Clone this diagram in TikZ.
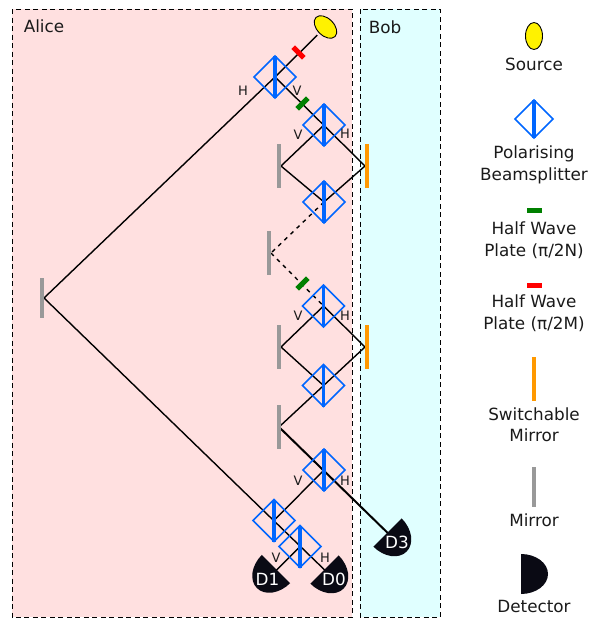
\documentclass[tikz,border=0pt]{standalone}
\usepackage{fontspec}
\setmainfont{DejaVu Sans}
\usepackage{tikz}
\usetikzlibrary{shapes.geometric,backgrounds}

\definecolor{alicepink}{HTML}{FFE0E0}
\definecolor{bobcyan}{HTML}{E0FFFF}
\definecolor{bsblue}{HTML}{0066FF}
\definecolor{txtgrey}{HTML}{1A1A1A}
\definecolor{detblack}{HTML}{0A0A14}
\definecolor{mirrorgrey}{HTML}{999999}
\definecolor{switchorange}{HTML}{FF9900}
\definecolor{platered}{HTML}{FF0000}
\definecolor{plategreen}{HTML}{008000}

\tikzset{
	panel/.style={draw=black,line width=0.9bp,dash pattern=on 5bp off 3.5bp},
	beam/.style={draw=black,line width=1.4bp},
	thickbeam/.style={draw=black,line width=2bp},
	dashbeam/.style={draw=black,line width=1.4bp,dash pattern=on 4bp off 4.5bp},
	splitter/.style={diamond,aspect=1,draw=bsblue,line width=1.5bp,inner sep=0pt,outer sep=0pt,minimum size=42bp},
	splitterkey/.style={splitter,minimum size=38bp},
	splitbar/.style={draw=bsblue,line width=3.4bp},
	source/.style={ellipse,draw=black,fill=yellow,line width=0.9bp,inner sep=0pt,outer sep=0pt,minimum width=17bp,minimum height=27bp},
	mirrorbar/.style={rectangle,fill=mirrorgrey,inner sep=0pt,outer sep=0pt,minimum width=4bp,minimum height=44bp},
	switchbar/.style={mirrorbar,fill=switchorange},
	halfwave/.style={rectangle,inner sep=0pt,outer sep=0pt,minimum width=15bp,minimum height=5bp},
	txt/.style={text=txtgrey,inner sep=0pt,align=center,font=\fontsize{16.8bp}{21.5bp}\selectfont},
	pol/.style={text=txtgrey,inner sep=0pt,font=\fontsize{13bp}{14bp}\selectfont},
	dettxt/.style={text=white,inner sep=0pt,font=\fontsize{16.8bp}{20bp}\selectfont}
}

\newcommand{\detector}[3]{
	\fill [detblack,shift={(#1bp,-#2bp)},rotate=#3] (0bp,20bp) arc[start angle=90,end angle=-90,x radius=27bp,y radius=20bp] -- cycle;
}

\begin{document}
\begin{tikzpicture}
	\useasboundingbox (0bp,0bp) rectangle (597bp,-618bp);

	\node (src) at (325.5bp,-27bp) [source,rotate=45]    {};

	\node (bs1) at (275bp,-77bp)   [splitter]            {};
	\node (bs2) at (324bp,-125bp)  [splitter]            {};
	\node (bs3) at (324bp,-202bp)  [splitter]            {};
	\node (bs4) at (323.5bp,-306bp) [splitter]           {};
	\node (bs5) at (323.5bp,-385.5bp) [splitter]         {};
	\node (bs6) at (324bp,-470bp)  [splitter]            {};
	\node (bs7) at (274bp,-520.5bp) [splitter]           {};
	\node (bs8) at (300bp,-546.5bp) [splitter]           {};
	\node (bsk) at (534bp,-119bp)  [splitterkey]         {};

	\foreach \bs in {bs1,bs2,bs3,bs4,bs5,bs6,bs7,bs8,bsk}
		\draw [splitbar] (\bs.north) -- (\bs.south);

	\node (m1)  at (42bp,-298bp)   [mirrorbar,minimum height=40bp] {};
	\node (m2)  at (279bp,-166bp)  [mirrorbar]           {};
	\node (m3)  at (269bp,-253bp)  [mirrorbar]           {};
	\node (m4)  at (279bp,-347bp)  [mirrorbar]           {};
	\node (m5)  at (279bp,-427bp)  [mirrorbar]           {};
	\node (sw1) at (367bp,-166bp)  [switchbar]           {};
	\node (sw2) at (367bp,-347bp)  [switchbar]           {};

	\node (hr)  at (298.5bp,-52.5bp)  [halfwave,fill=platered,rotate=-45]  {};
	\node (hg1) at (302.5bp,-103.5bp) [halfwave,fill=plategreen,rotate=45] {};
	\node (hg2) at (302.5bp,-283.5bp) [halfwave,fill=plategreen,rotate=45] {};

	\detector{276}{569}{225}
	\detector{324.5}{569.5}{-45}
	\detector{387.5}{532.5}{-45}
	\detector{521}{574}{0}

	\node (d1) at (267.5bp,-579bp) [dettxt] {D1};
	\node (d0) at (334bp,-579bp)   [dettxt] {D0};
	\node (d3) at (397bp,-542bp)   [dettxt] {D3};

	\node (alice) at (44bp,-26bp)  [txt] {Alice};
	\node (bob)   at (385bp,-27bp) [txt] {Bob};

	\node (p1) at (243bp,-91bp)  [pol] {H};
	\node (p2) at (297bp,-91bp)  [pol] {V};
	\node (p3) at (298bp,-135bp) [pol] {V};
	\node (p4) at (345bp,-134bp) [pol] {H};
	\node (p5) at (298bp,-316bp) [pol] {V};
	\node (p6) at (345bp,-316bp) [pol] {H};
	\node (p7) at (298bp,-481bp) [pol] {V};
	\node (p8) at (345bp,-481bp) [pol] {H};
	\node (p9) at (276bp,-558bp) [pol] {V};
	\node (p10) at (325bp,-558bp) [pol] {H};

	\node (srck) at (534bp,-36bp)   [source]                  {};
	\node (hgk)  at (534.5bp,-210.5bp) [halfwave,fill=plategreen] {};
	\node (hrk)  at (534.5bp,-285.5bp) [halfwave,fill=platered]   {};
	\node (swk)  at (534bp,-379bp)  [switchbar]               {};
	\node (mk)   at (534bp,-487bp)  [mirrorbar,minimum height=40bp] {};

	\node (l1) at (534bp,-64bp)  [txt] {Source};
	\node (l2) at (534bp,-165bp) [txt] {Polarising\\Beamsplitter};
	\node (l3) at (534bp,-240bp) [txt] {Half Wave\\Plate (π/2N)};
	\node (l4) at (534bp,-313bp) [txt] {Half Wave\\Plate (π/2M)};
	\node (l5) at (534bp,-424.5bp) [txt] {Switchable\\Mirror};
	\node (l6) at (534bp,-520bp) [txt] {Mirror};
	\node (l7) at (534bp,-606bp) [txt] {Detector};

	\begin{scope}[on background layer]
		\draw [panel,fill=alicepink] (12bp,-9bp) rectangle (352bp,-617bp);
		\draw [panel,fill=bobcyan] (360bp,-9bp) rectangle (440bp,-617bp);

		\draw [beam,shorten <=3bp] (src) to (bs1.center);
		\draw [beam] (bs1.center) to (m1.east);
		\draw [beam] (bs1.center) to (sw1.west);
		\draw [beam] (bs2.center) to (m2.east);
		\draw [beam] (m2.east) to (bs3.center);
		\draw [beam] (sw1.west) to (bs3.center);
		\draw [dashbeam] (bs3.center) to (m3.east);
		\draw [dashbeam] (m3.east) to (bs4.center);
		\draw [beam] (bs4.center) to (m4.east);
		\draw [beam] (bs4.center) to (sw2.west);
		\draw [beam] (m4.east) to (bs5.center);
		\draw [beam] (sw2.west) to (m5.center);
		\draw [thickbeam] (m5.center) to (d3.center);
		\draw [beam] (bs6.center) to (bs7.center);
		\draw [beam] (m1.east) to (d0.center);
		\draw [beam] (bs8.center) to (d1.center);
	\end{scope}
\end{tikzpicture}
\end{document}
